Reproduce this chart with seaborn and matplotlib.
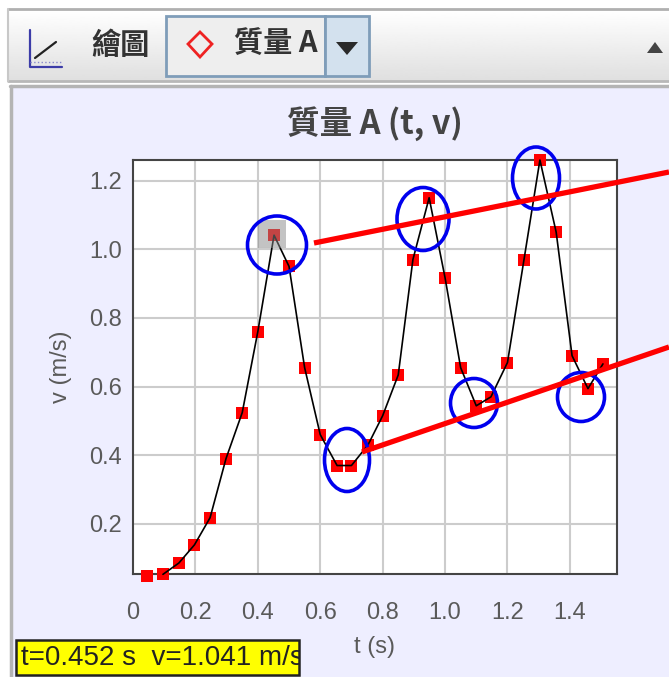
import numpy as np
import pandas as pd
import matplotlib
matplotlib.use('Agg')
import matplotlib.pyplot as plt
from matplotlib.patches import Ellipse, Rectangle, Polygon
import seaborn as sns

# values
t_vals = [0.045, 0.096, 0.147, 0.197, 0.247, 0.298, 0.350, 0.400, 0.452, 0.500,
          0.550, 0.600, 0.654, 0.700, 0.753, 0.800, 0.850, 0.897, 0.949, 1.000,
          1.050, 1.100, 1.147, 1.200, 1.253, 1.304, 1.356, 1.407, 1.458, 1.506]
v_vals = [0.048, 0.053, 0.086, 0.139, 0.218, 0.390, 0.524, 0.760, 1.041, 0.950,
          0.655, 0.460, 0.370, 0.370, 0.430, 0.515, 0.634, 0.970, 1.150, 0.917,
          0.655, 0.544, 0.570, 0.670, 0.970, 1.260, 1.050, 0.690, 0.594, 0.666]
x_ticks = [0, 0.2, 0.4, 0.6, 0.8, 1.0, 1.2, 1.4]
x_labels = ['0', '0.2', '0.4', '0.6', '0.8', '1.0', '1.2', '1.4']
y_ticks = [0.2, 0.4, 0.6, 0.8, 1.0, 1.2]
title_text = '質量 A (t, v)'
tip_text = 't=0.452 s  v=1.041 m/s'

df = pd.DataFrame({'t': t_vals, 'v': v_vals})

W, H = 669, 677
sns.set_style('white')
plt.rcParams['font.family'] = ['Liberation Sans', 'DejaVu Sans']
cjk = ['Noto Sans CJK TC', 'DejaVu Sans']
lavender = '#EEEEFF'
txt = '#5A5A5A'

fig = plt.figure(figsize=(W / 100, H / 100), dpi=100, facecolor='white')

# window chrome behind the plot, in pixel coordinates
bg = fig.add_axes([0, 0, 1, 1], zorder=0)
bg.set_xlim(0, W)
bg.set_ylim(H, 0)
bg.axis('off')
grad = np.linspace(1.0, 0.875, 64).reshape(-1, 1)
bg.imshow(grad, extent=[8, W, 81, 10], cmap='gray', vmin=0, vmax=1, aspect='auto')
bg.set_xlim(0, W)
bg.set_ylim(H, 0)
bg.plot([8, W], [9, 9], color='#b0b0b0', lw=2)
bg.plot([8, W], [81, 81], color='#b8b8b8', lw=2)
bg.plot([8, 8], [9, 81], color='#c8c8c8', lw=1.5)
bg.add_patch(Rectangle((12, 88), W - 12, H - 88, fc=lavender, ec='none'))
bg.plot([10, W], [86, 86], color='#b4b4b4', lw=2.5)
bg.plot([11, 11], [86, H], color='#b4b4b4', lw=2.5)
# plot-type icon
bg.plot([30, 30, 62], [30, 67, 67], color='#3c3ca8', lw=1.6)
bg.plot([35, 56], [58, 42], color='#222222', lw=1.6)
bg.plot([30, 62], [62, 62], color='#8888cc', lw=1, ls=':')
bg.text(120, 45, '繪圖', family=cjk, fontsize=21, fontweight='bold', color='#333333',
        ha='center', va='center')
# combo box
bg.add_patch(Rectangle((166, 16), 159, 60, fc='#EEEEEE', ec='#7f9db9', lw=2))
bg.add_patch(Rectangle((325, 16), 44, 60, fc='#d3e1ee', ec='#7f9db9', lw=2))
bg.add_patch(Polygon([(200, 32), (212, 44), (200, 57), (188, 44)], fc='none', ec='#ee2222', lw=2))
bg.text(276, 43, '質量 A', family=cjk, fontsize=21, fontweight='bold', color='#333333',
        ha='center', va='center')
bg.add_patch(Polygon([(336, 42), (358, 42), (347, 55)], fc='#2a2a2a', ec='none'))
bg.add_patch(Polygon([(647, 53), (663, 53), (655, 42)], fc='#444444', ec='none'))
bg.text(375, 124, title_text, family=cjk, fontsize=23.5, fontweight='bold', color='#444444',
        ha='center', va='center')

# the chart itself
ax = fig.add_axes([133 / W, (H - 574) / H, 484 / W, 414 / H], zorder=1)
ax.set_facecolor('white')
sns.scatterplot(data=df, x='t', y='v', marker='s', s=72, color='#FF0000', linewidth=0,
                clip_on=False, zorder=3, ax=ax)
sns.lineplot(data=df.iloc[1:], x='t', y='v', color='black', lw=1.2, sort=False,
             errorbar=None, clip_on=False, zorder=4, ax=ax)
ax.set_xlim(0, 1.551)
ax.set_ylim(0.054, 1.26)
ax.set_xticks(x_ticks, x_labels)
ax.set_yticks(y_ticks)
# grid as plain lines so the ticks stay visible on top of it
for xt in x_ticks[1:]:
    ax.axvline(xt, color='#CCCCCC', lw=1.5, zorder=1)
for yt in y_ticks:
    ax.axhline(yt, color='#CCCCCC', lw=1.5, zorder=1)
ax.tick_params(axis='both', direction='in', length=7, width=1.4, color='#444444',
               top=True, right=True, labelcolor=txt, labelsize=17)
ax.tick_params(axis='x', pad=20)
ax.tick_params(axis='y', pad=8)
for s in ax.spines.values():
    s.set_color('#444444')
    s.set_linewidth(1.5)
ax.set_xlabel('')
ax.set_ylabel('')

# annotations and tooltip on top, in pixel coordinates
top = fig.add_axes([0, 0, 1, 1], zorder=2)
top.patch.set_alpha(0)
top.set_xlim(0, W)
top.set_ylim(H, 0)
top.axis('off')
top.text(375, 647, 't (s)', fontsize=17, color=txt, ha='center', va='center')
top.text(61, 367, 'v (m/s)', fontsize=17, color=txt, rotation=90, ha='center', va='center')
top.add_patch(Rectangle((258, 220), 28, 28, fc='#888888', ec='none', alpha=0.5))
top.plot([314, W], [243, 172], color='#FF0000', lw=3.8, solid_capstyle='butt')
top.plot([362, W], [452, 347], color='#FF0000', lw=3.8, solid_capstyle='butt')
for cx, cy, w, h in [(277, 245, 59, 58), (423, 219, 52, 63), (536, 178, 47, 62),
                     (347, 460, 45, 63), (474, 403, 47, 49), (581, 397, 47, 49)]:
    top.add_patch(Ellipse((cx, cy), w, h, fc='none', ec='#0000EE', lw=2.6))
tip_box = Rectangle((16, 640), 283, 35, fc='#FFFF00', ec='#222222', lw=1.8)
top.add_patch(tip_box)
tip = top.text(21, 658, tip_text, fontsize=20, color='#222222', ha='left', va='center')
tip.set_clip_on(True)
tip.set_clip_path(tip_box)

fig.savefig('out.png', dpi=100, facecolor='white')
